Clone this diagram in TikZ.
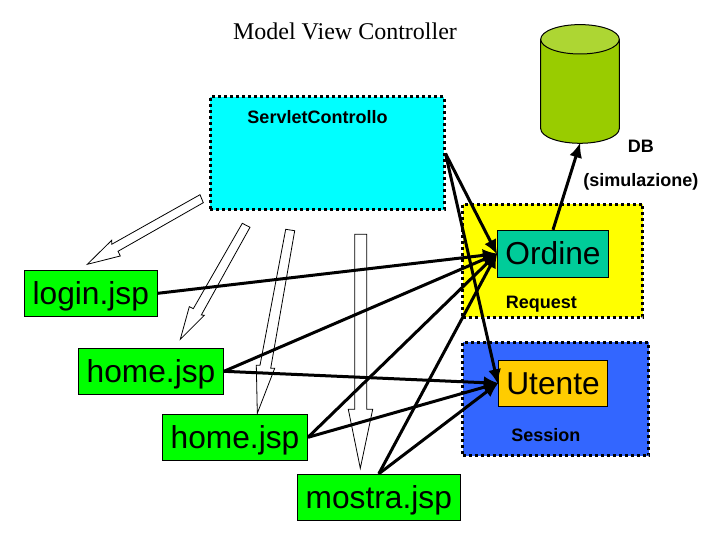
\documentclass[tikz,border=0pt]{standalone}
\usepackage{fontspec}
\setmainfont{Liberation Sans}
\newfontfamily\titlefont{Liberation Serif}
\usetikzlibrary{arrows.meta}
\definecolor{pagegreen}{HTML}{00FF00}
\definecolor{cyanbox}{HTML}{00FFFF}
\definecolor{yellowbox}{HTML}{FFFF00}
\definecolor{bluebox}{HTML}{3366FF}
\definecolor{tealbox}{HTML}{00CC99}
\definecolor{amberbox}{HTML}{FFCC00}
\definecolor{dbbody}{HTML}{99CC00}
\definecolor{dbtop}{HTML}{ADD633}
\tikzset{
  bigtext/.style={font=\fontsize{31.7}{36}\selectfont, text height=22pt, text depth=0pt},
  boldlabel/.style={font=\fontsize{18}{21}\selectfont\bfseries, inner sep=0pt},
  solidbox/.style={draw=black, line width=1pt, inner sep=0pt, bigtext},
  pagebox/.style={solidbox, fill=pagegreen, minimum height=46pt},
  dotbox/.style={draw=black, line width=3pt, dash pattern=on 3pt off 3pt, inner sep=0pt},
  hollow/.style={draw=black, line width=0.8pt, fill=white, line join=miter},
  link/.style={draw=black, line width=3pt, -{Latex[length=15pt,width=13pt]}, shorten >=-1pt},
}
\begin{document}
\begin{tikzpicture}[x=1pt,y=-1pt]
\useasboundingbox[fill=white] (0,0) rectangle (720,540);

% dotted containers
\node[dotbox, fill=cyanbox, minimum width=234pt, minimum height=113pt] (servlet) at (327,153.5) {};
\node[dotbox, fill=yellowbox, minimum width=180pt, minimum height=113pt] (request) at (552.7,260.8) {};
\node[dotbox, fill=bluebox, minimum width=186pt, minimum height=113.4pt] (session) at (555.7,399) {};

% database cylinder
\node[minimum width=78.6pt, minimum height=118.6pt, inner sep=0pt] (db) at (580,84) {};
\draw[line width=1pt, fill=dbbody] (540.7,39.3) -- (540.7,128.6) arc[start angle=180, end angle=360, x radius=39.3, y radius=-14.7] -- (619.3,39.3) -- cycle;
\draw[line width=1pt, fill=dbtop] (580,39.3) ellipse[x radius=39.3, y radius=14.7];

% hollow arrows
\draw[hollow] (200,194.7) -- (111.7,244.3) -- (111.7,240.3) -- (87.3,264.3) -- (120.3,256) -- (118,251.3) -- (203.3,202.7) -- cycle;
\draw[hollow] (242.3,223.3) -- (250,227.3) -- (201.3,315) -- (204.3,315.3) -- (180.3,339.3) -- (189.3,306.7) -- (193.3,308.7) -- cycle;
\draw[hollow] (285.7,229.3) -- (294.7,230.7) -- (270.7,368.3) -- (274.7,368.3) -- (257.3,413.3) -- (256.3,365.3) -- (260,365.3) -- cycle;
\draw[hollow] (354.7,234.3) -- (366.7,234.3) -- (366.7,409.3) -- (372.7,409.3) -- (360.3,468.3) -- (348.3,409.3) -- (354.7,409.3) -- cycle;

% solid boxes
\node[pagebox, minimum width=133pt] (login) at (90.8,293.3) {login.jsp};
\node[pagebox, minimum width=145pt] (homeA) at (151,371.3) {home.jsp};
\node[pagebox, minimum width=145pt] (homeB) at (235,437.3) {home.jsp};
\node[pagebox, minimum width=163pt] (mostra) at (378.8,497.3) {mostra.jsp};
\node[solidbox, fill=tealbox, minimum width=111.4pt, minimum height=47pt] (ordine) at (553,253.8) {Ordine};
\node[solidbox, fill=amberbox, minimum width=109.4pt, minimum height=46pt] (utente) at (553,383.3) {Utente};

% connectors
\draw[link] (servlet.east) -- (ordine.west);
\draw[link] (servlet.east) -- (utente.west);
\draw[link] (login.east) -- (ordine.west);
\draw[link] (homeA.east) -- (ordine.west);
\draw[link] (homeA.east) -- (utente.west);
\draw[link] (homeB.east) -- (ordine.west);
\draw[link] (homeB.east) -- (utente.west);
\draw[link] (mostra.north) -- (ordine.west);
\draw[link] (mostra.north) -- (utente.west);
\draw[link] (ordine.north) -- (db.south);

% labels
\node[font=\fontsize{24}{28}\selectfont\titlefont, inner sep=0pt] (title) at (345,31) {Model View Controller};
\node[boldlabel] (servletlabel) at (317.5,117) {ServletControllo};
\node[boldlabel] (dblabel) at (640.8,146.7) {DB};
\node[boldlabel] (simlabel) at (640.8,181.5) {(simulazione)};
\node[boldlabel] (reqlabel) at (541.3,304) {Request};
\node[boldlabel] (seslabel) at (545.8,435) {Session};
\end{tikzpicture}
\end{document}
